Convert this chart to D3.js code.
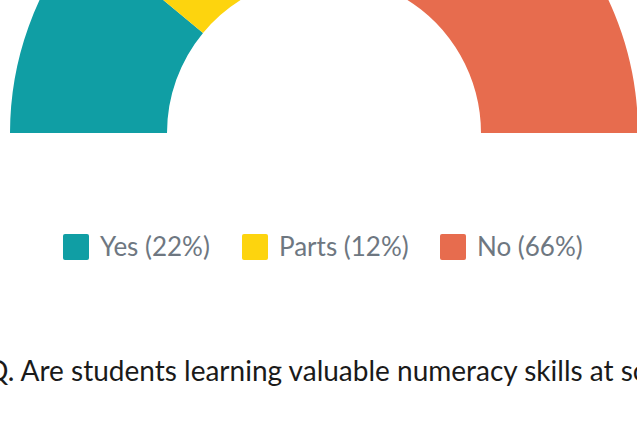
<!DOCTYPE html>
<html lang="en">
<head>
<meta charset="UTF-8">
<title>Numeracy skills</title>
<script src="https://d3js.org/d3.v7.min.js"></script>
<style>
  body { margin: 0; background: #fff; }
  svg { display: block; font-family: Lato, sans-serif; }
</style>
</head>
<body>
<div id="chart"></div>
<script>
// survey answers
const categories = ["Yes", "Parts", "No"];
const values = [22, 12, 66];
const colors = ["#109ea4", "#fdd40e", "#e76c4e"];
const question = "Q. Are students learning valuable numeracy skills at school?";

const width = 637, height = 422;
const cx = 324, cy = 133, outerR = 314, innerR = 157;

const svg = d3.select("#chart").append("svg")
    .attr("width", width)
    .attr("height", height);

const pie = d3.pie()
    .sort(null)
    .startAngle(-Math.PI / 2)
    .endAngle(Math.PI / 2)
    .value(d => d);

const arc = d3.arc().innerRadius(innerR).outerRadius(outerR);

svg.append("g")
    .attr("transform", `translate(${cx},${cy})`)
    .selectAll("path")
    .data(pie(values))
    .join("path")
    .attr("fill", (d, i) => colors[i])
    .attr("d", arc);

// legend
const legendX = [63, 242, 440];
const legend = svg.append("g");
categories.forEach((c, i) => {
    const g = legend.append("g").attr("transform", `translate(${legendX[i]},234)`);
    g.append("rect")
        .attr("width", 26).attr("height", 26)
        .attr("rx", 2)
        .attr("fill", colors[i]);
    g.append("text")
        .attr("x", 37).attr("y", 22)
        .attr("font-size", 26)
        .attr("fill", "#6e7781")
        .text(`${c} (${values[i]}%)`);
});

// question is wider than the frame, as in the source
svg.append("text")
    .attr("x", -14)
    .attr("y", 381)
    .attr("font-size", 28)
    .attr("fill", "#1a1a1a")
    .text(question);
</script>
</body>
</html>
